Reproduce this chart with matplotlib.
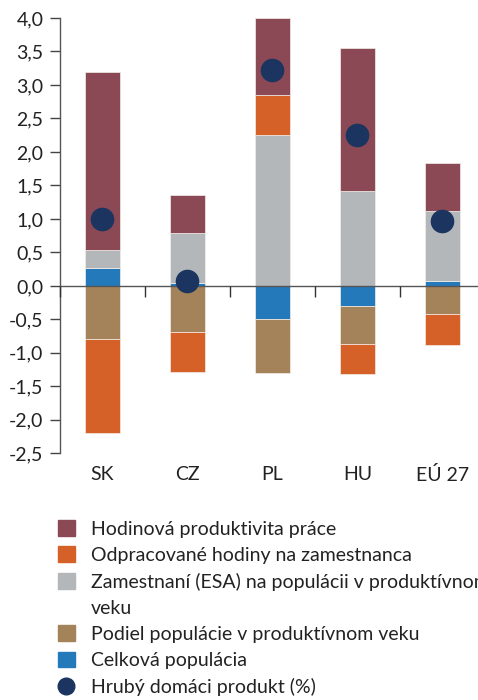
import numpy as np
import matplotlib.pyplot as plt
from matplotlib.patches import Patch
from matplotlib.lines import Line2D

plt.rcParams['font.family'] = ['Lato', 'DejaVu Sans']

countries = ['SK', 'CZ', 'PL', 'HU', 'EÚ 27']
# contributions (p.b.)
celkova_pop = [0.27, 0.05, -0.50, -0.30, 0.07]
podiel_pop = [-0.80, -0.69, -0.80, -0.57, -0.42]
zamestnani = [0.27, 0.74, 2.25, 1.42, 1.05]
hodiny = [-1.40, -0.60, 0.60, -0.45, -0.46]
produktivita = [2.66, 0.57, 1.15, 2.13, 0.72]
hdp = [1.00, 0.07, 3.22, 2.25, 0.97]

series = [
    (celkova_pop, '#2479BA'),
    (podiel_pop, '#A5835A'),
    (zamestnani, '#B3B7BA'),
    (hodiny, '#D66128'),
    (produktivita, '#8B4855'),
]

fig = plt.figure(figsize=(4.78, 7), dpi=100)
ax = fig.add_axes([0.1255, 0.3524, 0.889, 0.6219])

x = np.arange(len(countries))
pos_base = np.zeros(len(countries))
neg_base = np.zeros(len(countries))
for vals, col in series:
    v = np.array(vals)
    base = np.where(v >= 0, pos_base, neg_base)
    ax.bar(x, v, 0.41, bottom=base, color=col, edgecolor='#f3eeea', linewidth=0.5)
    pos_base += np.where(v >= 0, v, 0)
    neg_base += np.where(v < 0, v, 0)

ax.plot(x, hdp, 'o', color='#1B3560', markersize=16, zorder=5)

ax.set_xlim(-0.5, 4.5)
ax.set_ylim(-2.5, 4.0)
yt = np.arange(-2.5, 4.01, 0.5)
ax.set_yticks(yt, [f'{t:.1f}'.replace('.', ',') for t in yt])
ax.set_xticks(x, countries)
ax.tick_params(axis='x', length=0, pad=9, labelsize=14, colors='#222222')
ax.tick_params(axis='y', length=7, width=1, color='#444444', labelsize=14, pad=5)
ax.tick_params(axis='y', labelcolor='#222222')

for s in ['top', 'right', 'bottom']:
    ax.spines[s].set_visible(False)
ax.spines['left'].set_color('#555555')
ax.spines['left'].set_linewidth(1)

# zero line with category separators
ax.axhline(0, color='#555555', linewidth=1, zorder=4)
ax.vlines(np.arange(-0.5, 4.6, 1.0), -0.16, 0, color='#333333', linewidth=1, zorder=4,
          clip_on=False)

handles = [
    Patch(color='#8B4855'),
    Patch(color='#D66128'),
    Patch(color='#B3B7BA'),
    Patch(alpha=0),
    Patch(color='#A5835A'),
    Patch(color='#2479BA'),
    Line2D([], [], marker='o', linestyle='none', color='#1B3560', markersize=12),
]
labels = [
    'Hodinová produktivita práce',
    'Odpracované hodiny na zamestnanca',
    'Zamestnaní (ESA) na populácii v produktívnom',
    'veku',
    'Podiel populácie v produktívnom veku',
    'Celková populácia',
    'Hrubý domáci produkt (%)',
]
leg = fig.legend(handles, labels, loc='upper left', bbox_to_anchor=(0.121, 0.257),
                 frameon=False, fontsize=14, handlelength=0.88, handleheight=0.88,
                 handletextpad=0.82, labelspacing=0.44, borderpad=0, borderaxespad=0)
for t in leg.get_texts():
    t.set_color('#222222')

fig.savefig('out.png', dpi=100)
